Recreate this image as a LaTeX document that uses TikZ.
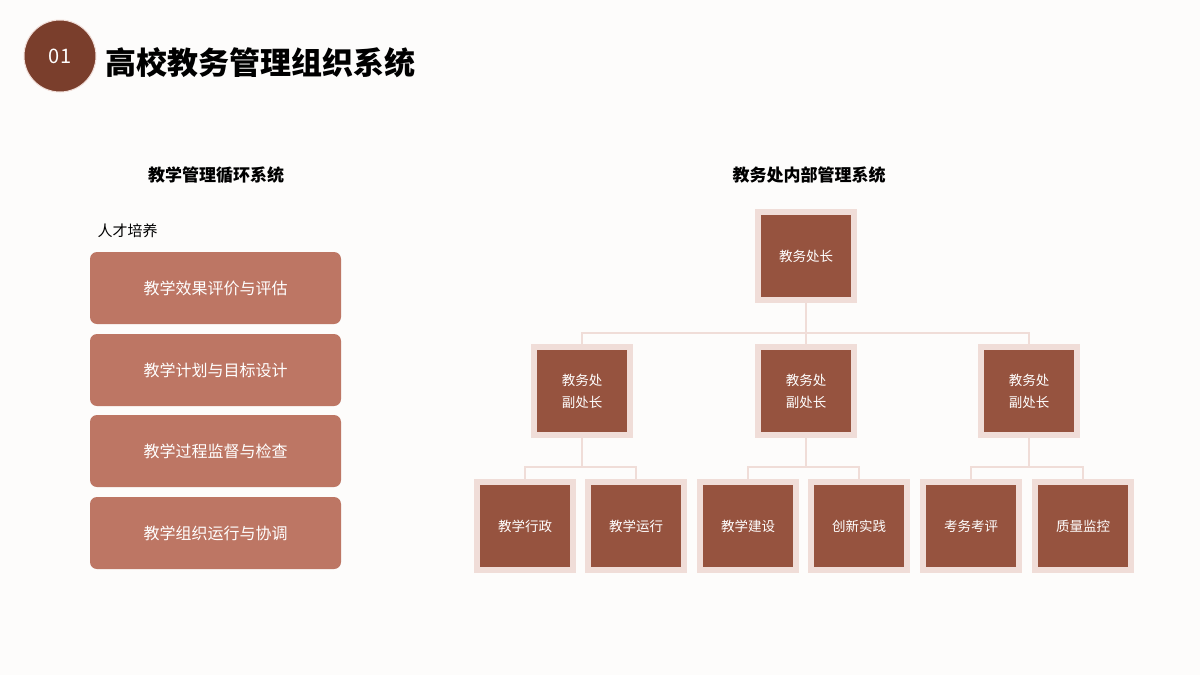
\documentclass[tikz,border=0pt]{standalone}
\usepackage{fontspec}
\setmainfont{Noto Sans CJK SC}
\usetikzlibrary{positioning}
\definecolor{darkbrown}{HTML}{7A3E2C}
\definecolor{boxbrown}{HTML}{96533F}
\definecolor{softbrown}{HTML}{BD7664}
\definecolor{edgepink}{HTML}{F0DDD8}
\definecolor{paper}{HTML}{FDFCFB}
\tikzset{
  cyclebox/.style={fill=softbrown, rounded corners=7pt, minimum width=251pt,
    minimum height=72pt, text=white, font=\fontsize{16}{18}\selectfont},
  orgbox/.style={fill=boxbrown, draw=edgepink, line width=6pt, minimum width=96pt,
    minimum height=88pt, text=white, align=center, font=\fontsize{13.5}{22}\selectfont},
  link/.style={edgepink, line width=2.5pt}
}
\begin{document}
\begin{tikzpicture}[x=1pt, y=-1pt]
    % Background
    \fill[paper] (0,0) rectangle (1200,675);
    \useasboundingbox (0,0) rectangle (1200,675);

    % Header
    \node[circle, fill=darkbrown, draw=edgepink, line width=1pt, minimum size=72pt,
      text=white, font=\fontsize{20}{22}\selectfont] (num) at (60,56) {01};
    \node[anchor=west, font=\fontsize{31}{34}\selectfont\bfseries] (title) at (102,63) {高校教务管理组织系统};

    % Left column
    \node[font=\fontsize{17}{20}\selectfont\bfseries] (lefthead) at (216,175) {教学管理循环系统};
    \node[anchor=west, font=\fontsize{15}{18}\selectfont] (talent) at (94,231) {人才培养};
    \node[cyclebox] (c1) at (215.5,288) {教学效果评价与评估};
    \node[cyclebox] (c2) at (215.5,370) {教学计划与目标设计};
    \node[cyclebox] (c3) at (215.5,451) {教学过程监督与检查};
    \node[cyclebox] (c4) at (215.5,533) {教学组织运行与协调};

    % Right chart
    \node[font=\fontsize{17}{20}\selectfont\bfseries] (righthead) at (809,175) {教务处内部管理系统};
    \node[orgbox] (head) at (806,256) {教务处长};
    \node[orgbox] (vp1) at (582,391) {教务处\\副处长};
    \node[orgbox] (vp2) at (806,391) {教务处\\副处长};
    \node[orgbox] (vp3) at (1029,391) {教务处\\副处长};
    \node[orgbox] (u1) at (525,526) {教学行政};
    \node[orgbox] (u2) at (636,526) {教学运行};
    \node[orgbox] (u3) at (748,526) {教学建设};
    \node[orgbox] (u4) at (859,526) {创新实践};
    \node[orgbox] (u5) at (971,526) {考务考评};
    \node[orgbox] (u6) at (1083,526) {质量监控};

    % Connectors
    \begin{scope}[on background layer/.style={}]
    \draw[link] (head.south) -- (head.south |- 0,333);
    \draw[link] (vp1.north) |- (vp3.north |- 0,333) -- (vp3.north);
    \draw[link] (vp2.north) -- (vp2.north |- 0,333);
    \foreach \v/\a/\b in {vp1/u1/u2, vp2/u3/u4, vp3/u5/u6} {
        \draw[link] (\v.south) -- (\v.south |- 0,467);
        \draw[link] (\a.north) |- (\b.north |- 0,467) -- (\b.north);
    }
    \end{scope}
\end{tikzpicture}
\end{document}
